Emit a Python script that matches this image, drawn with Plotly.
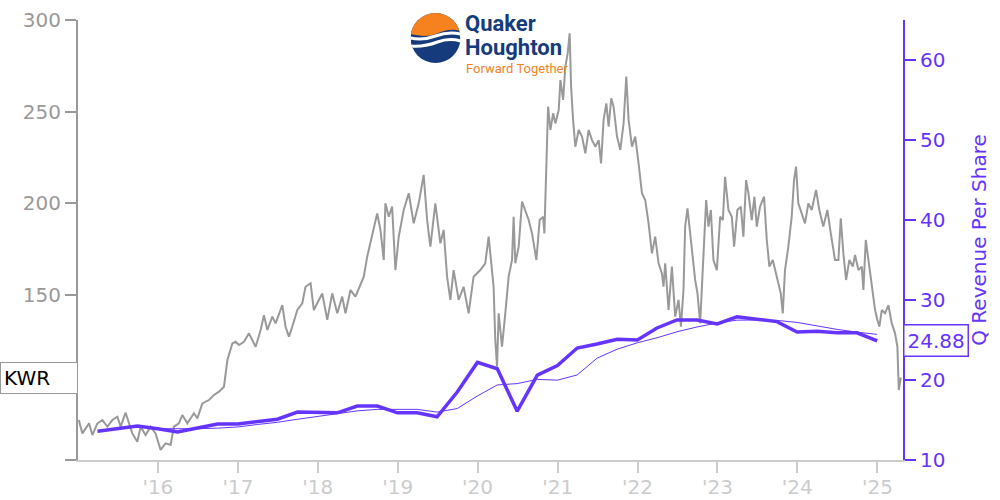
import base64
import pandas as pd
import plotly.graph_objects as go

# ---------------- data ----------------
price_years = [
    2015.01, 2015.055, 2015.138, 2015.18, 2015.243, 2015.305, 2015.368, 2015.43, 2015.493, 2015.534, 2015.596, 2015.638, 2015.68, 2015.743, 2015.784, 2015.846, 2015.909, 2015.971,
    2016.034, 2016.096, 2016.159, 2016.2, 2016.263, 2016.305, 2016.368, 2016.45, 2016.493, 2016.555, 2016.638, 2016.7, 2016.763, 2016.825, 2016.868, 2016.93, 2016.971,
    2017.013, 2017.075, 2017.138, 2017.221, 2017.284, 2017.325, 2017.368, 2017.43, 2017.471, 2017.555, 2017.596, 2017.638, 2017.68, 2017.743, 2017.805, 2017.846, 2017.909, 2017.95,
    2018.013, 2018.055, 2018.118, 2018.18, 2018.243, 2018.305, 2018.346, 2018.409, 2018.471, 2018.534, 2018.575, 2018.618, 2018.68, 2018.743, 2018.784, 2018.825, 2018.846, 2018.888, 2018.93, 2018.971,
    2019.013, 2019.075, 2019.138, 2019.2, 2019.263, 2019.325, 2019.368, 2019.409, 2019.471, 2019.534, 2019.575, 2019.618, 2019.659, 2019.7, 2019.763, 2019.825, 2019.888, 2019.95,
    2020.034, 2020.096, 2020.138, 2020.2, 2020.221, 2020.243, 2020.263, 2020.305, 2020.346, 2020.388, 2020.43, 2020.45, 2020.471, 2020.513, 2020.555, 2020.596, 2020.638, 2020.68, 2020.734, 2020.775, 2020.818, 2020.834, 2020.859, 2020.88, 2020.909, 2020.943, 2020.971,
    2021.013, 2021.034, 2021.068, 2021.096, 2021.125, 2021.15, 2021.168, 2021.193, 2021.221, 2021.263, 2021.305, 2021.346, 2021.388, 2021.43, 2021.471, 2021.513, 2021.543, 2021.575, 2021.609, 2021.638, 2021.671, 2021.7, 2021.743, 2021.784, 2021.825, 2021.859, 2021.888, 2021.93, 2021.971,
    2022.013, 2022.055, 2022.096, 2022.138, 2022.18, 2022.221, 2022.263, 2022.305, 2022.325, 2022.346, 2022.388, 2022.43, 2022.471, 2022.513, 2022.543, 2022.575, 2022.596, 2022.625, 2022.659, 2022.693, 2022.721, 2022.75, 2022.784, 2022.818, 2022.859, 2022.888, 2022.918, 2022.95, 2022.993,
    2023.034, 2023.068, 2023.096, 2023.138, 2023.18, 2023.209, 2023.25, 2023.293, 2023.325, 2023.359, 2023.388, 2023.43, 2023.463, 2023.493, 2023.534, 2023.584, 2023.618, 2023.65, 2023.693, 2023.743, 2023.793, 2023.818, 2023.846, 2023.888, 2023.93, 2023.959, 2023.984,
    2024.013, 2024.055, 2024.096, 2024.138, 2024.18, 2024.234, 2024.275, 2024.325, 2024.375, 2024.418, 2024.471, 2024.513, 2024.543, 2024.575, 2024.609, 2024.65, 2024.693, 2024.721, 2024.763, 2024.805, 2024.825, 2024.855, 2024.888, 2024.93, 2024.971,
    2025.0, 2025.025, 2025.055, 2025.096, 2025.138, 2025.18, 2025.221, 2025.25, 2025.268, 2025.293,
]
price_values = [
    81.8, 74.5, 80, 73.6, 80, 81.8, 78.2, 81.8, 83.6, 78.2, 85.8, 80, 74.5, 70, 78.2, 73.6, 78.2, 74.5,
    65.5, 69.1, 68.2, 78.2, 80, 84.5, 80, 85.5, 82.7, 90.9, 92.7, 95.5, 97.3, 100, 114.5, 123.6, 124.5,
    122.7, 124.5, 129.1, 121.8, 130.9, 139, 130.9, 138.2, 134.5, 144.5, 132.7, 127.3, 132.7, 141.8, 145.5, 154.5, 156.4, 141.8,
    147.3, 150.9, 136.4, 150.9, 140, 149.1, 140, 152.7, 149.1, 156.4, 160, 170.9, 181.8, 194.5, 185.5, 169.1, 200, 192.7, 198.2, 163.6,
    181.8, 196.4, 205.5, 189.1, 200, 215.5, 190.9, 176.4, 200, 178.2, 185.5, 160, 147.3, 163.6, 147.3, 154.5, 140, 160,
    163.6, 167.3, 181.8, 154.5, 125.5, 110.9, 140, 121.8, 140, 160, 169.1, 192.7, 167.3, 176.4, 200.9, 196.4, 190.9, 183.6, 169.1, 190.9, 192.7, 183.6, 227.3, 252.7, 240, 249.1, 243.6,
    250.9, 267.3, 256.4, 274.5, 281.8, 292.7, 263.6, 245.5, 230.9, 240, 236.4, 227.3, 240, 234.5, 230.9, 234.5, 221.8, 245.5, 254.5, 241.8, 257.3, 252.7, 236.4, 229.1, 243.6, 269.1, 245.5, 230.9, 236.4,
    221.8, 205.5, 201.8, 189.1, 172.7, 181.8, 167.3, 161.8, 154.5, 167.3, 141.8, 165.5, 138.2, 147.3, 132.7, 152.7, 187.3, 197.3, 183.6, 167.3, 158.2, 150.9, 134.5, 165.5, 201.8, 187.3, 196.4, 169.1, 163.6,
    192.7, 190.9, 214.5, 196.4, 192.7, 176.4, 196.4, 198.2, 181.8, 212.7, 205.5, 190.9, 203.6, 187.3, 198.2, 203.6, 180, 165.5, 169.1, 160, 150.9, 140, 163.6, 176.4, 192.7, 212.7, 220,
    200, 194.5, 189.1, 200, 196.4, 207.3, 196.4, 187.3, 196.4, 183.6, 169.1, 169.1, 191.8, 172.7, 158.2, 169.1, 165.5, 171.8, 163.6, 165.5, 152.7, 180, 169.1, 158.2, 141.8,
    136.4, 132.7, 141.8, 140, 144.5, 134.5, 129.1, 121.8, 98.2, 105,
]
assert len(price_years) == len(price_values)

quarter_dates = [
    "2015-03-31", "2015-06-30", "2015-09-30", "2015-12-31",
    "2016-03-31", "2016-06-30", "2016-09-30", "2016-12-31",
    "2017-03-31", "2017-06-30", "2017-09-30", "2017-12-31",
    "2018-03-31", "2018-06-30", "2018-09-30", "2018-12-31",
    "2019-03-31", "2019-06-30", "2019-09-30", "2019-12-31",
    "2020-03-31", "2020-06-30", "2020-09-30", "2020-12-31",
    "2021-03-31", "2021-06-30", "2021-09-30", "2021-12-31",
    "2022-03-31", "2022-06-30", "2022-09-30", "2022-12-31",
    "2023-03-31", "2023-06-30", "2023-09-30", "2023-12-31",
    "2024-03-31", "2024-06-30", "2024-09-30", "2024-12-31",
]
q_revenue_per_share = [
    13.6, 13.9, 14.25, 13.9,
    13.5, 14.0, 14.5, 14.5,
    14.75, 15.1, 16.0, 15.9,
    15.9, 16.75, 16.75, 15.9,
    15.9, 15.4, 18.5, 22.2,
    21.4, 16.1, 20.6, 21.8,
    24.0, 24.5, 25.1, 25.0,
    26.5, 27.5, 27.5, 27.0,
    27.9, 27.6, 27.3, 26.0,
    26.1, 25.9, 25.9, 24.88,
]
# trailing four-quarter average, starting Q4 2015
avg_dates = quarter_dates[3:]
avg_revenue_per_share = [
    13.91,
    13.89, 13.91, 13.98, 14.13,
    14.44, 14.71, 15.09, 15.44,
    15.73, 16.14, 16.33, 16.33,
    16.33, 15.99, 16.43, 18.0,
    19.38, 19.55, 20.08, 19.98,
    20.63, 22.73, 23.85, 24.65,
    25.28, 26.03, 26.63, 27.13,
    27.48, 27.5, 27.45, 27.2,
    26.75, 26.33, 25.98, 25.7,
]
year_ticks = ["2016-01-01", "2017-01-01", "2018-01-01", "2019-01-01", "2020-01-01",
              "2021-01-01", "2022-01-01", "2023-01-01", "2024-01-01", "2025-01-01"]
year_labels = ["'16", "'17", "'18", "'19", "'20", "'21", "'22", "'23", "'24", "'25"]
ticker = "KWR"
last_label = "24.88"


def decimal_to_date(d):
    y = int(d)
    start = pd.Timestamp(year=y, month=1, day=1)
    end = pd.Timestamp(year=y + 1, month=1, day=1)
    return start + (end - start) * (d - y)


price_dates = [decimal_to_date(d) for d in price_years]

GRAY = "#999999"
LIGHT = "#cccccc"
PURPLE = "#6634ff"
NAVY = "#163b7c"
ORANGE = "#f5821f"
FONT = "DejaVu Sans"

fig = go.Figure()
fig.add_trace(go.Scatter(x=price_dates, y=price_values, mode="lines",
                         line=dict(color=GRAY, width=2), yaxis="y", showlegend=False))
fig.add_trace(go.Scatter(x=avg_dates, y=avg_revenue_per_share, mode="lines",
                         line=dict(color=PURPLE, width=1), yaxis="y2", showlegend=False))
fig.add_trace(go.Scatter(x=quarter_dates, y=q_revenue_per_share, mode="lines",
                         line=dict(color=PURPLE, width=3.5), yaxis="y2", showlegend=False))

W, H = 1000, 500
ML, MR, MT, MB = 78, 97, 20, 40
PW, PH = W - ML - MR, H - MT - MB


def px(x):
    return (x - ML) / PW


def py(y):
    return (H - MB - y) / PH


svg = f'''<svg xmlns="http://www.w3.org/2000/svg" viewBox="0 0 100 100">
<defs><clipPath id="c"><circle cx="50" cy="50" r="50"/></clipPath></defs>
<g clip-path="url(#c)">
<rect width="100" height="100" fill="{NAVY}"/>
<path d="M0,0 H100 V36 C82,30 65,36 50,42 C35,48 18,46 0,42 Z" fill="{ORANGE}"/>
<path d="M0,50 C18,54 34,52 50,46 C66,40 84,38 100,42" stroke="#ffffff" stroke-width="6" fill="none"/>
<path d="M0,66 C20,68 38,64 54,58 C70,52 86,52 100,56" stroke="#ffffff" stroke-width="6" fill="none"/>
</g></svg>'''
svg_uri = "data:image/svg+xml;base64," + base64.b64encode(svg.encode()).decode()

fig.update_layout(
    width=W, height=H,
    margin=dict(l=ML, r=MR, t=MT, b=MB, autoexpand=False),
    paper_bgcolor="white", plot_bgcolor="white",
    font=dict(family=FONT, size=20, color=GRAY),
    xaxis=dict(
        type="date", range=["2015-01-01", "2025-04-28"],
        tickvals=year_ticks, ticktext=year_labels,
        showgrid=False, zeroline=False,
        showline=True, linecolor=LIGHT, linewidth=2,
        ticks="outside", ticklen=11, tickwidth=2, tickcolor=LIGHT,
        ticklabelstandoff=-3,
        tickfont=dict(color=LIGHT, size=20, family=FONT),
    ),
    yaxis=dict(
        range=[60, 300], tickvals=[60, 100, 150, 200, 250, 300],
        ticktext=["", "100", "150", "200", "250", "300"],
        showgrid=False, zeroline=False,
        showline=True, linecolor=GRAY, linewidth=2,
        ticks="outside", ticklen=11, tickwidth=2, tickcolor=GRAY,
        tickfont=dict(color=GRAY, size=20, family=FONT),
    ),
    yaxis2=dict(
        overlaying="y", side="right", anchor="x",
        range=[10, 65], tickvals=[10, 20, 30, 40, 50, 60],
        showgrid=False, zeroline=False,
        showline=True, linecolor=PURPLE, linewidth=2,
        ticks="outside", ticklen=11, tickwidth=2, tickcolor=PURPLE,
        tickfont=dict(color=PURPLE, size=20, family=FONT),
        title=dict(text="Q Revenue Per Share", font=dict(color=PURPLE, size=20, family=FONT), standoff=28),
    ),
    images=[dict(source=svg_uri, xref="paper", yref="paper",
                 x=px(410.5), y=py(13), sizex=50 / PW, sizey=50 / PH,
                 xanchor="left", yanchor="top", sizing="stretch", layer="above")],
    annotations=[
        dict(text="<b>Quaker</b>", xref="paper", yref="paper", x=px(463), y=py(23),
             xanchor="left", yanchor="middle", showarrow=False,
             font=dict(family="Roboto", size=22, color=NAVY)),
        dict(text="<b>Houghton</b>", xref="paper", yref="paper", x=px(463), y=py(47),
             xanchor="left", yanchor="middle", showarrow=False,
             font=dict(family="Roboto", size=22, color=NAVY)),
        dict(text="Forward Together", xref="paper", yref="paper", x=px(464), y=py(68),
             xanchor="left", yanchor="middle", showarrow=False,
             font=dict(family="Roboto", size=13, color=ORANGE)),
        dict(text=ticker, xref="paper", yref="y", x=0, y=price_values[-1],
             xanchor="right", yanchor="middle", showarrow=False, align="left",
             width=70, bgcolor="white", bordercolor=GRAY, borderwidth=1, borderpad=3,
             font=dict(family=FONT, size=20, color="black")),
        dict(text=last_label, xref="paper", yref="y2", x=1, y=q_revenue_per_share[-1],
             xanchor="left", yanchor="middle", showarrow=False, align="left",
             bgcolor="white", bordercolor=PURPLE, borderwidth=1.5, borderpad=3,
             font=dict(family=FONT, size=20, color=PURPLE)),
    ],
)

fig.write_html("out.html", config={"displayModeBar": False},
               post_script="document.body.style.margin='0';")
